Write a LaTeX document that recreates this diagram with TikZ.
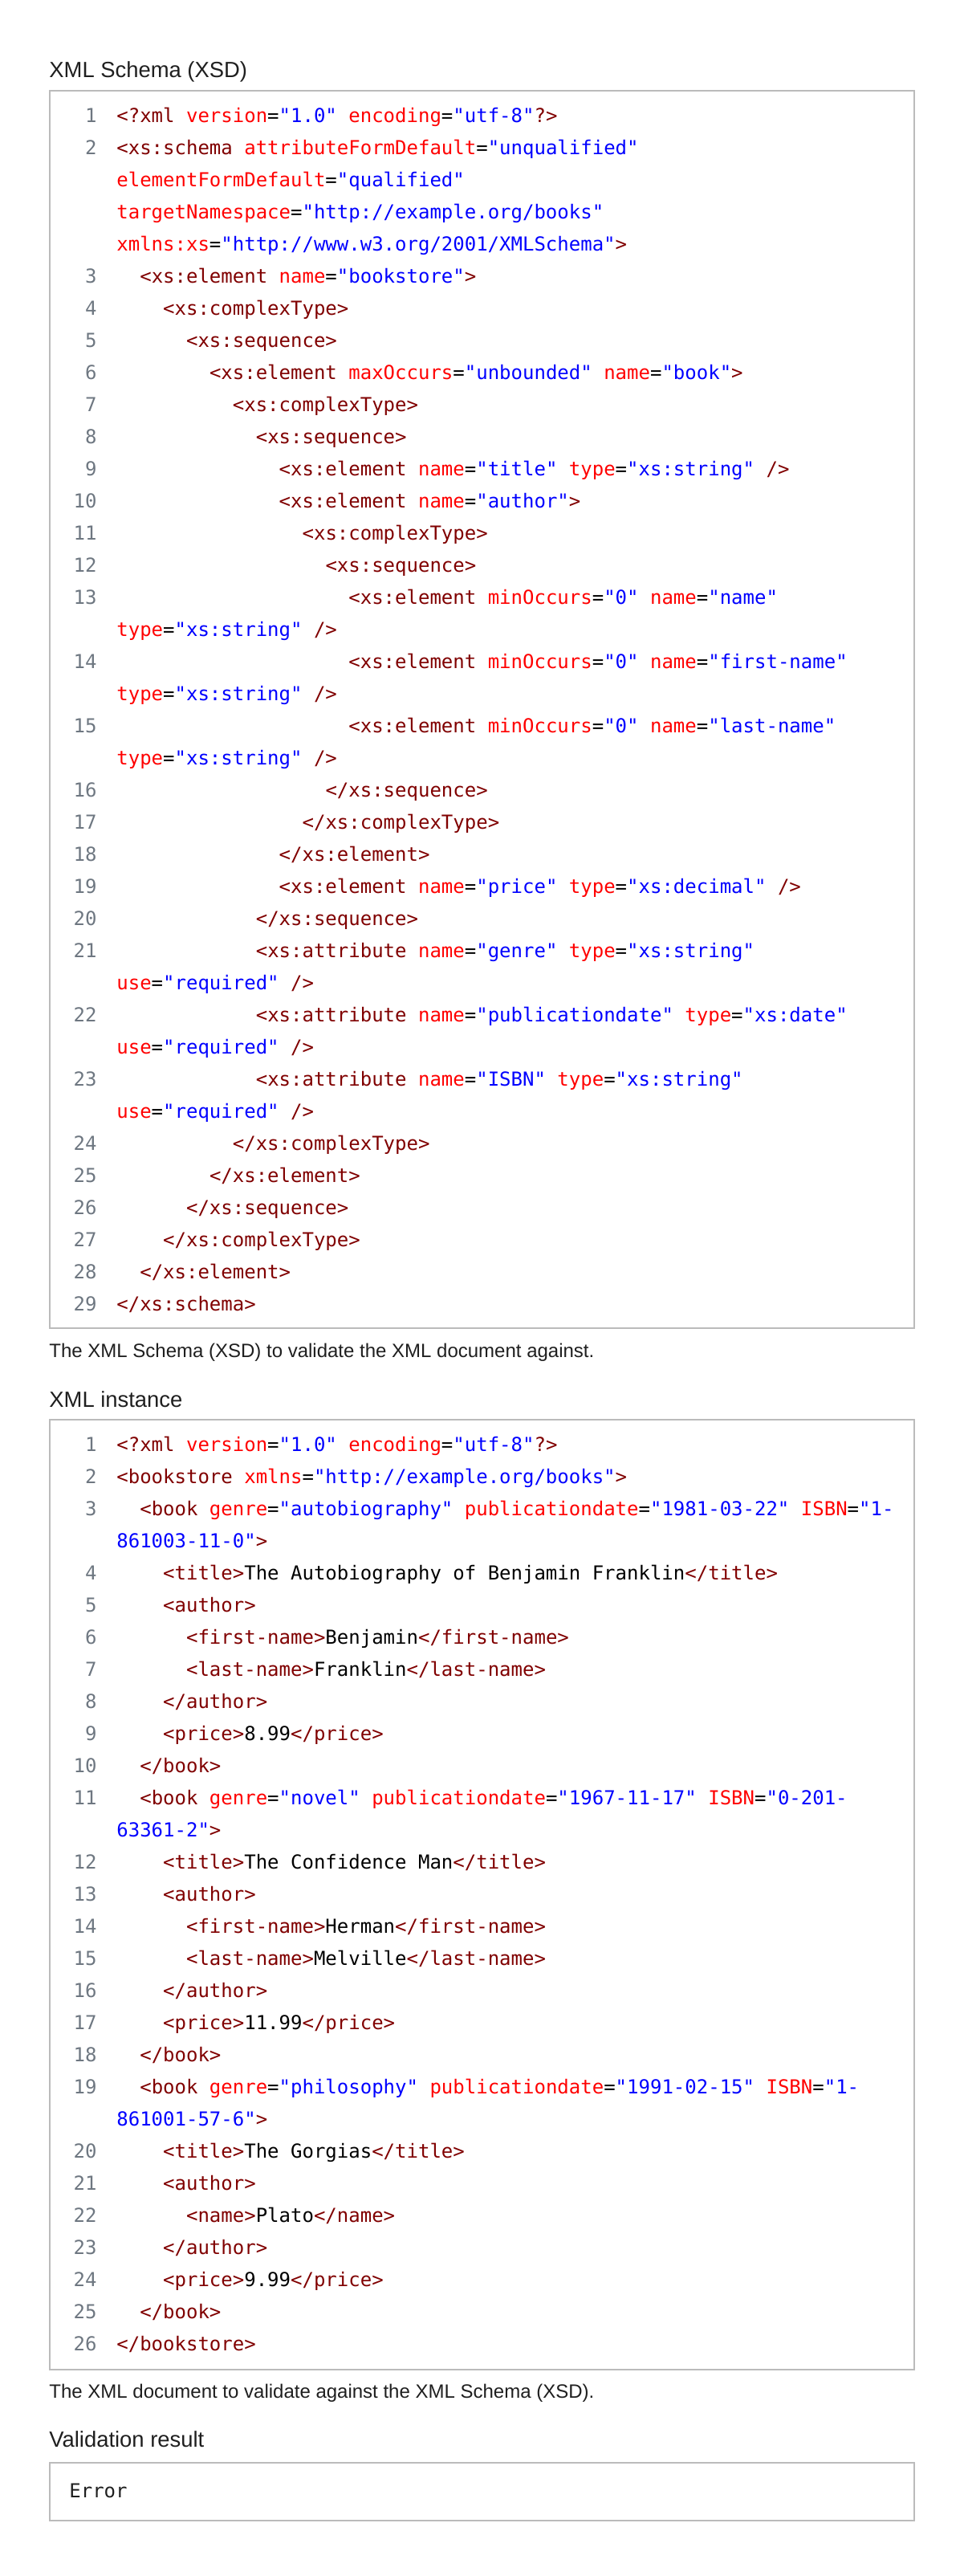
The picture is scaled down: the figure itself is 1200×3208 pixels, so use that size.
\documentclass[tikz,border=0pt]{standalone}
\usepackage{fontspec}
\setmainfont{Liberation Sans}
\newfontfamily\codefont{DejaVu Sans Mono}
\definecolor{xtagc}{HTML}{800000}
\definecolor{xattc}{HTML}{FF0000}
\definecolor{xvalc}{HTML}{0000FF}
\definecolor{lnumc}{HTML}{6E7781}
\definecolor{framec}{HTML}{BBBBBB}
\definecolor{inkc}{HTML}{1F1F1F}
\newcommand{\xmltag}[1]{\textcolor{xtagc}{#1}}
\newcommand{\xmlatt}[1]{\textcolor{xattc}{#1}}
\newcommand{\xmlval}[1]{\textcolor{xvalc}{#1}}
\newcommand{\xattr}[2]{\xmlatt{#1}=\xmlval{"#2"}}
\tikzset{
panel/.style={draw=framec, line width=1pt}, % grey code boxes
head/.style={inner sep=0pt, anchor=base west, text=inkc,
  font=\fontsize{13.7pt}{16pt}\selectfont},
capt/.style={inner sep=0pt, anchor=base west, text=inkc,
  font=\fontsize{12pt}{14pt}\selectfont},
code/.style={inner sep=0pt, anchor=base west,
  font=\codefont\fontsize{12pt}{14pt}\selectfont\frenchspacing},
lnum/.style={inner sep=0pt, anchor=base east, text=lnumc,
  font=\codefont\fontsize{12pt}{14pt}\selectfont},
ind/.style={xshift=#1*7.225pt}} % indent by characters

\begin{document}
\begin{tikzpicture}[x=0.5pt,y=-0.5pt]
\useasboundingbox (0,0) rectangle (1200,3208);
% schema
\node[head] (hd1) at (61,96) {XML Schema (XSD)};
\draw[panel] (62,113) rectangle (1139,1654);
\node[lnum] (sn1) at (121,152) {1};
\node[code] (s1) at (145,152) {\xmltag{<?xml} \xattr{version}{1.0} \xattr{encoding}{utf-8}\xmltag{?>}};
\node[lnum] (sn2) at (121,192) {2};
\node[code] (s2) at (145,192) {\xmltag{<xs:schema} \xattr{attributeFormDefault}{unqualified}};
\node[code] (s2a) at (145,232) {\xattr{elementFormDefault}{qualified}};
\node[code] (s2b) at (145,272) {\xattr{targetNamespace}{http://example.org/books}};
\node[code] (s2c) at (145,312) {\xattr{xmlns:xs}{http://www.w3.org/2001/XMLSchema}\xmltag{>}};
\node[lnum] (sn3) at (121,352) {3};
\node[code, ind=2] (s3) at (145,352) {\xmltag{<xs:element} \xattr{name}{bookstore}\xmltag{>}};
\node[lnum] (sn4) at (121,392) {4};
\node[code, ind=4] (s4) at (145,392) {\xmltag{<xs:complexType>}};
\node[lnum] (sn5) at (121,432) {5};
\node[code, ind=6] (s5) at (145,432) {\xmltag{<xs:sequence>}};
\node[lnum] (sn6) at (121,472) {6};
\node[code, ind=8] (s6) at (145,472) {\xmltag{<xs:element} \xattr{maxOccurs}{unbounded} \xattr{name}{book}\xmltag{>}};
\node[lnum] (sn7) at (121,512) {7};
\node[code, ind=10] (s7) at (145,512) {\xmltag{<xs:complexType>}};
\node[lnum] (sn8) at (121,552) {8};
\node[code, ind=12] (s8) at (145,552) {\xmltag{<xs:sequence>}};
\node[lnum] (sn9) at (121,592) {9};
\node[code, ind=14] (s9) at (145,592) {\xmltag{<xs:element} \xattr{name}{title} \xattr{type}{xs:string} \xmltag{/>}};
\node[lnum] (sn10) at (121,632) {10};
\node[code, ind=14] (s10) at (145,632) {\xmltag{<xs:element} \xattr{name}{author}\xmltag{>}};
\node[lnum] (sn11) at (121,672) {11};
\node[code, ind=16] (s11) at (145,672) {\xmltag{<xs:complexType>}};
\node[lnum] (sn12) at (121,712) {12};
\node[code, ind=18] (s12) at (145,712) {\xmltag{<xs:sequence>}};
\node[lnum] (sn13) at (121,752) {13};
\node[code, ind=20] (s13) at (145,752) {\xmltag{<xs:element} \xattr{minOccurs}{0} \xattr{name}{name}};
\node[code] (s13a) at (145,792) {\xattr{type}{xs:string} \xmltag{/>}};
\node[lnum] (sn14) at (121,832) {14};
\node[code, ind=20] (s14) at (145,832) {\xmltag{<xs:element} \xattr{minOccurs}{0} \xattr{name}{first-name}};
\node[code] (s14a) at (145,872) {\xattr{type}{xs:string} \xmltag{/>}};
\node[lnum] (sn15) at (121,912) {15};
\node[code, ind=20] (s15) at (145,912) {\xmltag{<xs:element} \xattr{minOccurs}{0} \xattr{name}{last-name}};
\node[code] (s15a) at (145,952) {\xattr{type}{xs:string} \xmltag{/>}};
\node[lnum] (sn16) at (121,992) {16};
\node[code, ind=18] (s16) at (145,992) {\xmltag{</xs:sequence>}};
\node[lnum] (sn17) at (121,1032) {17};
\node[code, ind=16] (s17) at (145,1032) {\xmltag{</xs:complexType>}};
\node[lnum] (sn18) at (121,1072) {18};
\node[code, ind=14] (s18) at (145,1072) {\xmltag{</xs:element>}};
\node[lnum] (sn19) at (121,1112) {19};
\node[code, ind=14] (s19) at (145,1112) {\xmltag{<xs:element} \xattr{name}{price} \xattr{type}{xs:decimal} \xmltag{/>}};
\node[lnum] (sn20) at (121,1152) {20};
\node[code, ind=12] (s20) at (145,1152) {\xmltag{</xs:sequence>}};
\node[lnum] (sn21) at (121,1192) {21};
\node[code, ind=12] (s21) at (145,1192) {\xmltag{<xs:attribute} \xattr{name}{genre} \xattr{type}{xs:string}};
\node[code] (s21a) at (145,1232) {\xattr{use}{required} \xmltag{/>}};
\node[lnum] (sn22) at (121,1272) {22};
\node[code, ind=12] (s22) at (145,1272) {\xmltag{<xs:attribute} \xattr{name}{publicationdate} \xattr{type}{xs:date}};
\node[code] (s22a) at (145,1312) {\xattr{use}{required} \xmltag{/>}};
\node[lnum] (sn23) at (121,1352) {23};
\node[code, ind=12] (s23) at (145,1352) {\xmltag{<xs:attribute} \xattr{name}{ISBN} \xattr{type}{xs:string}};
\node[code] (s23a) at (145,1392) {\xattr{use}{required} \xmltag{/>}};
\node[lnum] (sn24) at (121,1432) {24};
\node[code, ind=10] (s24) at (145,1432) {\xmltag{</xs:complexType>}};
\node[lnum] (sn25) at (121,1472) {25};
\node[code, ind=8] (s25) at (145,1472) {\xmltag{</xs:element>}};
\node[lnum] (sn26) at (121,1512) {26};
\node[code, ind=6] (s26) at (145,1512) {\xmltag{</xs:sequence>}};
\node[lnum] (sn27) at (121,1552) {27};
\node[code, ind=4] (s27) at (145,1552) {\xmltag{</xs:complexType>}};
\node[lnum] (sn28) at (121,1592) {28};
\node[code, ind=2] (s28) at (145,1592) {\xmltag{</xs:element>}};
\node[lnum] (sn29) at (121,1632) {29};
\node[code] (s29) at (145,1632) {\xmltag{</xs:schema>}};
\node[capt] (cap1) at (61,1690) {The XML Schema (XSD) to validate the XML document against.};
% instance
\node[head] (hd2) at (61,1752) {XML instance};
\draw[panel] (62,1768) rectangle (1139,2951);
\node[lnum] (in1) at (121,1807) {1};
\node[code] (i1) at (145,1807) {\xmltag{<?xml} \xattr{version}{1.0} \xattr{encoding}{utf-8}\xmltag{?>}};
\node[lnum] (in2) at (121,1847) {2};
\node[code] (i2) at (145,1847) {\xmltag{<bookstore} \xattr{xmlns}{http://example.org/books}\xmltag{>}};
\node[lnum] (in3) at (121,1887) {3};
\node[code, ind=2] (i3) at (145,1887) {\xmltag{<book} \xattr{genre}{autobiography} \xattr{publicationdate}{1981-03-22} \xmlatt{ISBN}=\xmlval{"1-}};
\node[code] (i3a) at (145,1927) {\xmlval{861003-11-0"}\xmltag{>}};
\node[lnum] (in4) at (121,1967) {4};
\node[code, ind=4] (i4) at (145,1967) {\xmltag{<title>}The Autobiography of Benjamin Franklin\xmltag{</title>}};
\node[lnum] (in5) at (121,2007) {5};
\node[code, ind=4] (i5) at (145,2007) {\xmltag{<author>}};
\node[lnum] (in6) at (121,2047) {6};
\node[code, ind=6] (i6) at (145,2047) {\xmltag{<first-name>}Benjamin\xmltag{</first-name>}};
\node[lnum] (in7) at (121,2087) {7};
\node[code, ind=6] (i7) at (145,2087) {\xmltag{<last-name>}Franklin\xmltag{</last-name>}};
\node[lnum] (in8) at (121,2127) {8};
\node[code, ind=4] (i8) at (145,2127) {\xmltag{</author>}};
\node[lnum] (in9) at (121,2167) {9};
\node[code, ind=4] (i9) at (145,2167) {\xmltag{<price>}8.99\xmltag{</price>}};
\node[lnum] (in10) at (121,2207) {10};
\node[code, ind=2] (i10) at (145,2207) {\xmltag{</book>}};
\node[lnum] (in11) at (121,2247) {11};
\node[code, ind=2] (i11) at (145,2247) {\xmltag{<book} \xattr{genre}{novel} \xattr{publicationdate}{1967-11-17} \xmlatt{ISBN}=\xmlval{"0-201-}};
\node[code] (i11a) at (145,2287) {\xmlval{63361-2"}\xmltag{>}};
\node[lnum] (in12) at (121,2327) {12};
\node[code, ind=4] (i12) at (145,2327) {\xmltag{<title>}The Confidence Man\xmltag{</title>}};
\node[lnum] (in13) at (121,2367) {13};
\node[code, ind=4] (i13) at (145,2367) {\xmltag{<author>}};
\node[lnum] (in14) at (121,2407) {14};
\node[code, ind=6] (i14) at (145,2407) {\xmltag{<first-name>}Herman\xmltag{</first-name>}};
\node[lnum] (in15) at (121,2447) {15};
\node[code, ind=6] (i15) at (145,2447) {\xmltag{<last-name>}Melville\xmltag{</last-name>}};
\node[lnum] (in16) at (121,2487) {16};
\node[code, ind=4] (i16) at (145,2487) {\xmltag{</author>}};
\node[lnum] (in17) at (121,2527) {17};
\node[code, ind=4] (i17) at (145,2527) {\xmltag{<price>}11.99\xmltag{</price>}};
\node[lnum] (in18) at (121,2567) {18};
\node[code, ind=2] (i18) at (145,2567) {\xmltag{</book>}};
\node[lnum] (in19) at (121,2607) {19};
\node[code, ind=2] (i19) at (145,2607) {\xmltag{<book} \xattr{genre}{philosophy} \xattr{publicationdate}{1991-02-15} \xmlatt{ISBN}=\xmlval{"1-}};
\node[code] (i19a) at (145,2647) {\xmlval{861001-57-6"}\xmltag{>}};
\node[lnum] (in20) at (121,2687) {20};
\node[code, ind=4] (i20) at (145,2687) {\xmltag{<title>}The Gorgias\xmltag{</title>}};
\node[lnum] (in21) at (121,2727) {21};
\node[code, ind=4] (i21) at (145,2727) {\xmltag{<author>}};
\node[lnum] (in22) at (121,2767) {22};
\node[code, ind=6] (i22) at (145,2767) {\xmltag{<name>}Plato\xmltag{</name>}};
\node[lnum] (in23) at (121,2807) {23};
\node[code, ind=4] (i23) at (145,2807) {\xmltag{</author>}};
\node[lnum] (in24) at (121,2847) {24};
\node[code, ind=4] (i24) at (145,2847) {\xmltag{<price>}9.99\xmltag{</price>}};
\node[lnum] (in25) at (121,2887) {25};
\node[code, ind=2] (i25) at (145,2887) {\xmltag{</book>}};
\node[lnum] (in26) at (121,2927) {26};
\node[code] (i26) at (145,2927) {\xmltag{</bookstore>}};
\node[capt] (cap2) at (61,2986) {The XML document to validate against the XML Schema (XSD).};
% result
\node[head] (hd3) at (61,3047) {Validation result};
\draw[panel] (62,3067) rectangle (1139,3139);
\node[code, text=inkc] (res) at (86,3110) {Error};
\end{tikzpicture}
\end{document}
